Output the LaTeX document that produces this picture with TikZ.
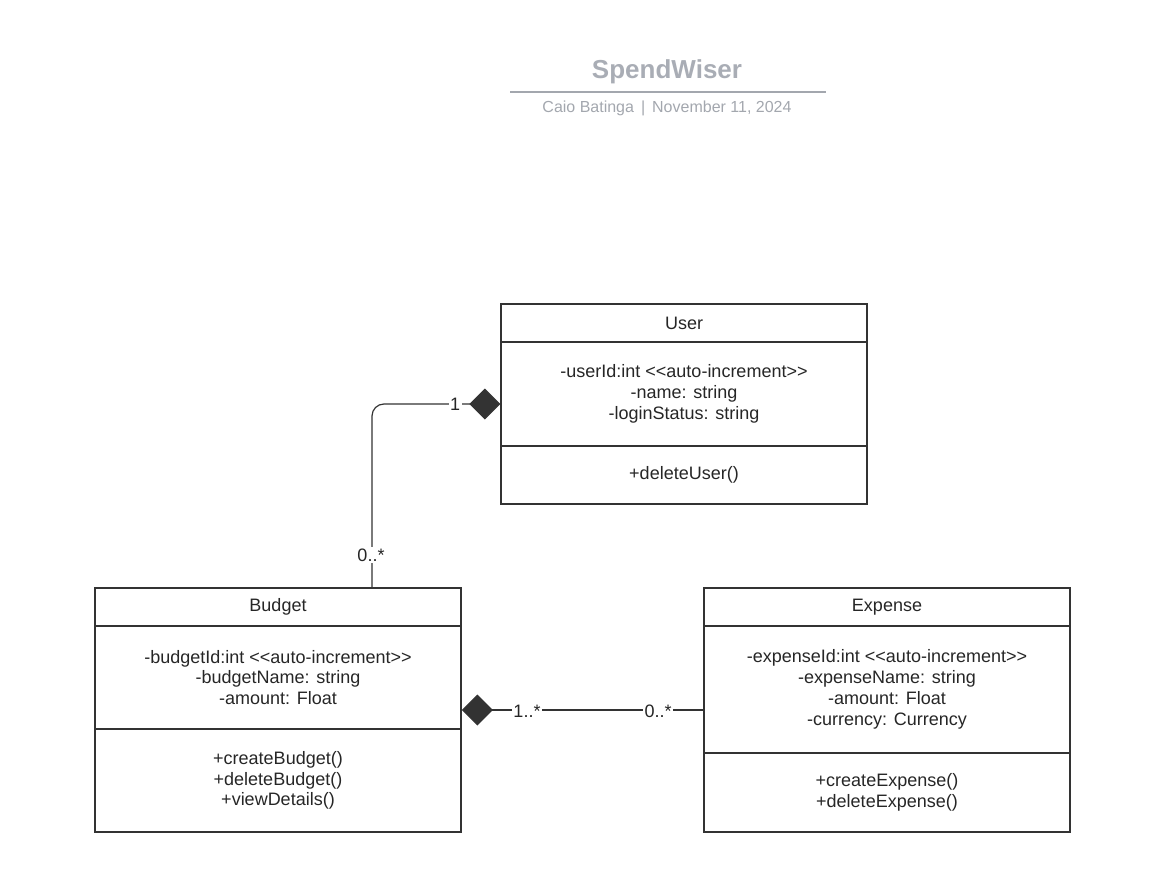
\documentclass[tikz,border=0pt]{standalone}
\usepackage{fontspec}
\setmainfont{Liberation Sans}[Ligatures=TeXOff]
\usetikzlibrary{arrows.meta}

\definecolor{linegray}{HTML}{333333}
\definecolor{textblack}{HTML}{262626}
\definecolor{titlegray}{HTML}{A9ADB5}
\definecolor{subgray}{HTML}{A3A7AE}

\tikzset{
  classbox/.style={draw=linegray, line width=1.5pt, minimum width=366pt, inner sep=0pt},
  classtext/.style={align=center, text=textblack, font=\fontsize{18}{20.8}\selectfont},
  mult/.style={fill=white, inner sep=1.5pt, text=textblack, font=\fontsize{18}{20.8}\selectfont},
  assoc/.style={draw=linegray, line width=1.2pt},
  compo/.style={{Diamond[length=31pt,width=31pt,fill=linegray]}-},
}

\begin{document}
\begin{tikzpicture}[x=1pt, y=-1pt]
    \useasboundingbox (0,0) rectangle (1150,882);

    % title block
    \node[text=titlegray, font=\bfseries\fontsize{26}{30}\selectfont] (title) at (667,72) {SpendWiser};
    \draw[subgray, line width=1.5pt] (510,92) -- (826,92);
    \node[text=subgray, font=\fontsize{16}{19}\selectfont] (subtitle) at (667,108) {Caio Batinga\hspace{7pt}|\hspace{7pt}November 11, 2024};

    % User
    \node[classbox, minimum height=200pt] (user) at (684,404) {};
    \draw[linegray, line width=1.5pt] (501,342) -- (867,342);
    \draw[linegray, line width=1.5pt] (501,446) -- (867,446);
    \node[classtext] (username) at (684,323) {User};
    \node[classtext] (userattr) at (684,394) {-userId:int <<auto-increment>>\\-name: string\\-loginStatus: string};
    \node[classtext] (userops) at (684,475) {+deleteUser()};

    % Budget
    \node[classbox, minimum height=244pt] (budget) at (278,710) {};
    \draw[linegray, line width=1.5pt] (95,626) -- (461,626);
    \draw[linegray, line width=1.5pt] (95,729) -- (461,729);
    \node[classtext] (budgetname) at (278,607) {Budget};
    \node[classtext] (budgetattr) at (278,677.5) {-budgetId:int <<auto-increment>>\\-budgetName: string\\-amount: Float};
    \node[classtext] (budgetops) at (278,780.5) {+createBudget()\\+deleteBudget()\\+viewDetails()};

    % Expense
    \node[classbox, minimum height=244pt] (expense) at (887,710) {};
    \draw[linegray, line width=1.5pt] (704,626) -- (1070,626);
    \draw[linegray, line width=1.5pt] (704,753) -- (1070,753);
    \node[classtext] (expensename) at (887,607) {Expense};
    \node[classtext] (expenseattr) at (887,689.5) {-expenseId:int <<auto-increment>>\\-expenseName: string\\-amount: Float\\-currency: Currency};
    \node[classtext] (expenseops) at (887,792.5) {+createExpense()\\+deleteExpense()};

    % associations
    \coordinate (budgettop) at (372,588);
    \draw[assoc, compo, rounded corners=12pt] (user.west) -| (budgettop);
    \draw[assoc, compo] (budget.east) -- (expense.west);

    % multiplicities
    \node[mult] (userone) at (455,404) {1};
    \node[mult] (budgetmany) at (371,555) {0..*};
    \node[mult] (budgetone) at (527,711) {1..*};
    \node[mult] (expensemany) at (658,711) {0..*};

\end{tikzpicture}
\end{document}
